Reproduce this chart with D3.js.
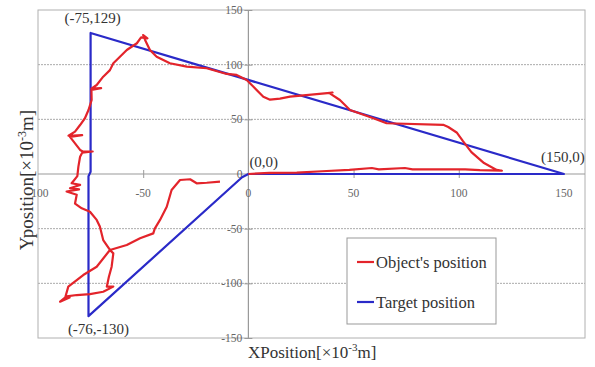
<!DOCTYPE html>
<html>
<head>
<meta charset="utf-8">
<script src="https://cdn.jsdelivr.net/npm/d3@7"></script>
<style>
  html, body { margin: 0; padding: 0; background: #fff; }
  text { font-family: "Liberation Serif", "Times New Roman", serif; }
</style>
</head>
<body>
<div id="chart"></div>
<script>
// tick values
const xTicks = [-100, -50, 0, 50, 100, 150];
const yTicks = [-150, -100, -50, 0, 50, 100, 150];
const gridY = [-100, -50, 50, 100];

// corner labels of the target triangle
const cornerLabels = ["(-75,129)", "(0,0)", "(150,0)", "(-76,-130)"];

// target trajectory (blue)
const targetPath = [
  [0, 0], [150, 0], [-75, 129], [-75, 2], [-76, -2], [-76, -130], [-3, -3], [0, 0]
];

const objectPath = [
  [0, 0], [10, 1], [23, 1.2], [35, 2.5], [48, 3.7], [58.7, 5.5], [62, 4.3], [74.4, 5.5],
  [78, 4.3], [103, 4.3], [110, 3.5], [120.5, 3], [118, 3.7], [112, 10], [106, 20],
  [102, 30], [99, 38], [95, 43], [92.6, 45], [65.7, 46.4], [59.4, 51], [48.3, 58.5], [43.5, 67.7],
  [38.7, 73.8], [40, 74.5], [32.5, 73], [19.8, 70.7], [15, 69], [10.3, 68], [7.1, 70.7],
  [2.3, 80], [-0.8, 86], [-5.6, 90.6], [-10.3, 91.5], [-19.8, 96.7], [-29.3, 98.2],
  [-37.3, 101.3], [-43.6, 107.3], [-46.8, 113.4], [-49.1, 122.6], [-50, 127], [-48, 124],
  [-51, 125], [-53, 119.6], [-57.8, 113.4], [-62.6, 104.3], [-64.2, 101.3], [-65.8, 95],
  [-69, 89], [-72.1, 81.4], [-74.6, 78], [-70, 78.5], [-74.6, 77], [-74.5, 67.7],
  [-76, 58.5], [-77.7, 51], [-80, 44.8], [-82.4, 38.7], [-85.5, 35], [-79, 35.5],
  [-84.8, 34], [-82.4, 28], [-80, 22], [-78.5, 20.4], [-74, 20.6], [-79, 19.5],
  [-80, 15.8], [-80.8, 6.7], [-81.3, -2], [-84, -8.5], [-80, -10], [-84.8, -13],
  [-80.5, -14], [-86.4, -16], [-81.6, -19], [-82.4, -27], [-79.2, -31.4], [-75.3, -34.5],
  [-72.1, -42], [-70.6, -48], [-69, -60.4], [-65.8, -69.5], [-64.2, -72.6], [-65, -84.8],
  [-66.3, -94], [-67.3, -103], [-64.2, -103], [-69, -107.7], [-75.3, -109.8],
  [-81.6, -110.7], [-86.4, -112], [-89.5, -116.8], [-85, -113], [-87, -112.5],
  [-85.6, -103], [-78.5, -92.4], [-72.1, -84.8], [-65.8, -69.5], [-57.8, -65],
  [-51.5, -58.8], [-45.2, -54.3], [-44.5, -50], [-42, -42], [-38.8, -30], [-36.5, -14.6],
  [-32.5, -5.5], [-27.7, -4.8], [-24.6, -8.5], [-19.8, -8], [-13.5, -7]
];

const legendNames = ["Object's position", "Target position"];
const seriesColors = ["#e3242b", "#2a2ac8"];

const width = 595, height = 367;
const plot = { left: 38, top: 10, right: 585, bottom: 338 };

const svg = d3.select("#chart")
  .append("svg")
  .attr("width", width)
  .attr("height", height);

const x = d3.scaleLinear().domain([-100, 160]).range([plot.left, plot.right]);
const y = d3.scaleLinear().domain([-150, 150]).range([plot.bottom, plot.top]);

// dotted horizontal grid
svg.append("g")
  .selectAll("line")
  .data(gridY)
  .join("line")
  .attr("x1", plot.left).attr("x2", plot.right)
  .attr("y1", d => y(d)).attr("y2", d => y(d))
  .attr("stroke", "#aaa")
  .attr("stroke-width", 1)
  .attr("stroke-dasharray", "2,1");

// plot frame
svg.append("rect")
  .attr("x", plot.left).attr("y", plot.top)
  .attr("width", plot.right - plot.left)
  .attr("height", plot.bottom - plot.top)
  .attr("fill", "none")
  .attr("stroke", "#b0b0b0")
  .attr("stroke-width", 1);

// axes through the origin
const xAxis = d3.axisBottom(x)
  .tickValues(xTicks.filter(d => d !== 0 && d !== -100 && d !== 150))
  .tickSize(4).tickFormat("");
const gx = svg.append("g").attr("transform", `translate(0,${y(0)})`).call(xAxis);
gx.select(".domain").remove();
gx.selectAll(".tick line").attr("y1", -4).attr("y2", 4).attr("stroke", "#999");

svg.append("line")
  .attr("x1", plot.left).attr("x2", plot.right)
  .attr("y1", y(0)).attr("y2", y(0))
  .attr("stroke", "#999").attr("stroke-width", 1.2);

const yAxis = d3.axisLeft(y)
  .tickValues(yTicks.filter(d => d !== 0))
  .tickSize(4).tickFormat("");
const gy = svg.append("g").attr("transform", `translate(${x(0)},0)`).call(yAxis);
gy.select(".domain").remove();
gy.selectAll(".tick line").attr("x1", -4).attr("x2", 4).attr("stroke", "#999");

svg.append("line")
  .attr("x1", x(0)).attr("x2", x(0))
  .attr("y1", plot.top).attr("y2", plot.bottom)
  .attr("stroke", "#999").attr("stroke-width", 1.2);

// tick labels
svg.append("g")
  .selectAll("text")
  .data(xTicks)
  .join("text")
  .attr("x", d => x(d))
  .attr("y", y(0) + 23)
  .attr("text-anchor", "middle")
  .attr("font-size", 11.5)
  .attr("fill", "#666")
  .text(d => d);

svg.append("g")
  .selectAll("text")
  .data(yTicks)
  .join("text")
  .attr("x", x(0) - 6)
  .attr("y", d => y(d) + 4)
  .attr("text-anchor", "end")
  .attr("font-size", 11.5)
  .attr("fill", "#666")
  .text(d => d);

// trajectories
const line = d3.line().x(d => x(d[0])).y(d => y(d[1]));

svg.append("path")
  .datum(targetPath)
  .attr("d", line)
  .attr("fill", "none")
  .attr("stroke", seriesColors[1])
  .attr("stroke-width", 2.2)
  .attr("stroke-linejoin", "round");

svg.append("path")
  .datum(objectPath)
  .attr("d", line)
  .attr("fill", "none")
  .attr("stroke", seriesColors[0])
  .attr("stroke-width", 2.2)
  .attr("stroke-linejoin", "round");

// corner annotations
const cornerPos = [
  { x: -75, y: 129, dx: 2, dy: -10, anchor: "middle" },
  { x: 0, y: 0, dx: 1, dy: -7, anchor: "start" },
  { x: 150, y: 0, dx: -1, dy: -12, anchor: "middle" },
  { x: -76, y: -130, dx: 10, dy: 18, anchor: "middle" }
];
svg.append("g")
  .selectAll("text")
  .data(cornerLabels)
  .join("text")
  .attr("x", (d, i) => x(cornerPos[i].x) + cornerPos[i].dx)
  .attr("y", (d, i) => y(cornerPos[i].y) + cornerPos[i].dy)
  .attr("text-anchor", (d, i) => cornerPos[i].anchor)
  .attr("font-size", 15)
  .attr("fill", "#333")
  .text(d => d);

// axis titles
const xTitle = svg.append("text")
  .attr("x", 248).attr("y", 358)
  .attr("font-size", 17)
  .attr("fill", "#333");
xTitle.append("tspan").text("XPosition[×10");
xTitle.append("tspan").attr("dy", -7).attr("font-size", 11).text("-3");
xTitle.append("tspan").attr("dy", 7).text("m]");

const yTitle = svg.append("text")
  .attr("transform", `translate(33,180) rotate(-90)`)
  .attr("text-anchor", "middle")
  .attr("font-size", 19)
  .attr("fill", "#333");
yTitle.append("tspan").text("Yposition[×10");
yTitle.append("tspan").attr("dy", -7).attr("font-size", 12).text("-3");
yTitle.append("tspan").attr("dy", 7).text("m]");

// legend
const legend = svg.append("g");
legend.append("rect")
  .attr("x", 347).attr("y", 238)
  .attr("width", 149).attr("height", 86)
  .attr("fill", "#fff")
  .attr("stroke", "#999");

const legendItems = legend.selectAll("g")
  .data(legendNames)
  .join("g")
  .attr("transform", (d, i) => `translate(357,${262 + i * 40})`);
legendItems.append("line")
  .attr("x1", 0).attr("x2", 17)
  .attr("stroke", (d, i) => seriesColors[i])
  .attr("stroke-width", 2.2);
legendItems.append("text")
  .attr("x", 19).attr("y", 5.5)
  .attr("font-size", 16.5)
  .attr("fill", "#333")
  .text(d => d);
</script>
</body>
</html>
